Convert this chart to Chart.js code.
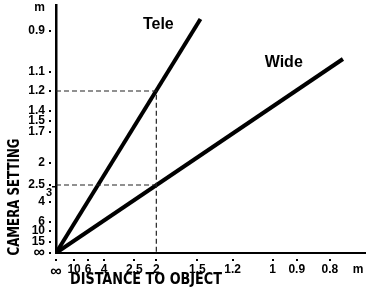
<!DOCTYPE html>
<html>
<head>
<meta charset="utf-8">
<script src="https://cdn.jsdelivr.net/npm/chart.js@4/dist/chart.umd.min.js"></script>
<style>
  body { margin: 0; background: #fff; }
  #wrap { width: 367px; height: 295px; position: relative; }
</style>
</head>
<body>
<div id="wrap"><canvas id="focusChart"></canvas></div>
<script>
// Scale positions (distance from the origin along each axis)
const xTickPos = [0, 18, 32, 48, 78, 100, 141, 176, 216, 240, 273, 301];
const xTickLabels = ['∞', '10', '6', '4', '2.5', '2', '1.5', '1.2', '1', '0.9', '0.8', 'm'];
const yTickPos = [0, 11, 22, 31, 51, 61, 68, 90, 121, 132, 142, 162, 181, 222, 245];
const yTickLabels = ['∞', '15', '10', '6', '4', '3', '2.5', '2', '1.7', '1.5', '1.4', '1.2', '1.1', '0.9', 'm'];

// Zoom settings
const teleX = [0, 144];
const teleY = [0, 234];
const wideX = [0, 286];
const wideY = [0, 194];

// Dashed read-off guides at 2 m
const guideTeleX = [0, 100, 100];
const guideTeleY = [162, 162, 0];
const guideWideX = [0, 100];
const guideWideY = [68, 68];

const seriesNames = ['Tele', 'Wide'];
const nameAtX = [102, 227];
const nameAtY = [228, 190];

const COLORS = {
    ink: '#000000',
    guide: '#222222',
    bg: '#ffffff'
};

const FONT_FAMILY = "'Liberation Sans', Arial, sans-serif";

// the infinity sign is drawn bigger than the digits in the original
function tickFont(c) {
    const big = c.tick && c.tick.label === '∞';
    return { family: FONT_FAMILY, size: big ? 16 : 12, weight: 'bold' };
}

function toPoints(xs, ys) {
    return xs.map((x, i) => ({ x: x, y: ys[i] }));
}

// squeeze a string into a given width (the original uses a tall condensed face)
function fitText(ctx, text, cx, cy, width, rotate) {
    ctx.save();
    ctx.font = "bold 16px 'Liberation Sans Narrow', 'DejaVu Sans Condensed', sans-serif";
    ctx.textAlign = 'center';
    ctx.textBaseline = 'middle';
    const w = ctx.measureText(text).width;
    ctx.translate(cx, cy);
    if (rotate) ctx.rotate(-Math.PI / 2);
    ctx.scale(width / w, 1);
    ctx.fillText(text, 0, 0);
    ctx.restore();
}

// keep the plot box where the original has it
function noPad(s) {
    s.paddingTop = 0;
    s.paddingBottom = 0;
    s.paddingLeft = 0;
    s.paddingRight = 0;
}

const extrasPlugin = {
    id: 'extras',
    afterDraw(chart) {
        const { ctx, chartArea, scales } = chart;
        ctx.save();
        ctx.fillStyle = COLORS.ink;

        // little dots next to each scale mark
        xTickPos.forEach((v, i) => {
            if (xTickLabels[i] === 'm') return;
            const px = Math.round(scales.x.getPixelForValue(v));
            ctx.fillRect(px - 1, chartArea.bottom + 6, 2, 2);
        });
        yTickPos.forEach((v, i) => {
            if (yTickLabels[i] === 'm' || yTickLabels[i] === '3') return;
            const py = Math.round(scales.y.getPixelForValue(v));
            ctx.fillRect(chartArea.left - 7, py - 1, 2, 2);
        });

        // "3" is squeezed in under 2.5
        const y3 = scales.y.getPixelForValue(yTickPos[yTickLabels.indexOf('3')]);
        ctx.font = "bold 11px " + FONT_FAMILY;
        ctx.textAlign = 'right';
        ctx.textBaseline = 'middle';
        ctx.fillText('3', chartArea.left - 4, y3 + 1);
        ctx.fillRect(chartArea.left - 4, Math.round(y3) - 6, 4, 1.5);

        // series names
        ctx.font = "bold 16px " + FONT_FAMILY;
        ctx.textAlign = 'center';
        seriesNames.forEach((name, i) => {
            ctx.fillText(name, scales.x.getPixelForValue(nameAtX[i]), scales.y.getPixelForValue(nameAtY[i]));
        });
        ctx.restore();

        // axis titles
        ctx.fillStyle = COLORS.ink;
        fitText(ctx, 'DISTANCE TO OBJECT', 146, 280, 152, false);
        fitText(ctx, 'CAMERA SETTING', 15, 197, 117, true);
    }
};

const bgPlugin = {
    id: 'bg',
    beforeDraw(chart) {
        const ctx = chart.ctx;
        ctx.save();
        ctx.fillStyle = COLORS.bg;
        ctx.fillRect(0, 0, chart.width, chart.height);
        ctx.restore();
    }
};

function solidLine(label, xs, ys) {
    return {
        label: label,
        data: toPoints(xs, ys),
        showLine: true,
        borderColor: COLORS.ink,
        borderWidth: 4,
        pointRadius: 0,
        borderCapStyle: 'butt'
    };
}

function guideLine(label, xs, ys) {
    return {
        label: label,
        data: toPoints(xs, ys),
        showLine: true,
        borderColor: COLORS.guide,
        borderWidth: 1.2,
        borderDash: [5, 3],
        pointRadius: 0
    };
}

const ctx = document.getElementById('focusChart').getContext('2d');
new Chart(ctx, {
    type: 'scatter',
    data: {
        datasets: [
            guideLine('guide tele', guideTeleX, guideTeleY),
            guideLine('guide wide', guideWideX, guideWideY),
            solidLine('Tele', teleX, teleY),
            solidLine('Wide', wideX, wideY)
        ]
    },
    options: {
        responsive: true,
        maintainAspectRatio: false,
        animation: false,
        layout: { padding: { top: 5, right: 2, left: 0, bottom: 0 } },
        plugins: { legend: { display: false }, tooltip: { enabled: false } },
        scales: {
            x: {
                type: 'linear',
                min: 0,
                max: 308,
                grid: { display: false, drawTicks: false },
                border: { display: true, color: COLORS.ink, width: 2 },
                afterBuildTicks: (s) => { s.ticks = xTickPos.map(v => ({ value: v })); },
                afterFit: (s) => { s.height = 42; noPad(s); },
                ticks: {
                    autoSkip: false,
                    maxRotation: 0,
                    padding: 9,
                    color: COLORS.ink,
                    font: tickFont,
                    callback: (v, i) => xTickLabels[i]
                }
            },
            y: {
                type: 'linear',
                min: 0,
                max: 248,
                grid: { display: false, drawTicks: false },
                border: { display: true, color: COLORS.ink, width: 2.5 },
                afterBuildTicks: (s) => { s.ticks = yTickPos.map(v => ({ value: v })); },
                afterFit: (s) => { s.width = 56; noPad(s); },
                ticks: {
                    autoSkip: false,
                    padding: 11,
                    color: COLORS.ink,
                    font: tickFont,
                    callback: (v, i) => (yTickLabels[i] === '3' ? '' : yTickLabels[i])
                }
            }
        }
    },
    plugins: [bgPlugin, extrasPlugin]
});
</script>
</body>
</html>
